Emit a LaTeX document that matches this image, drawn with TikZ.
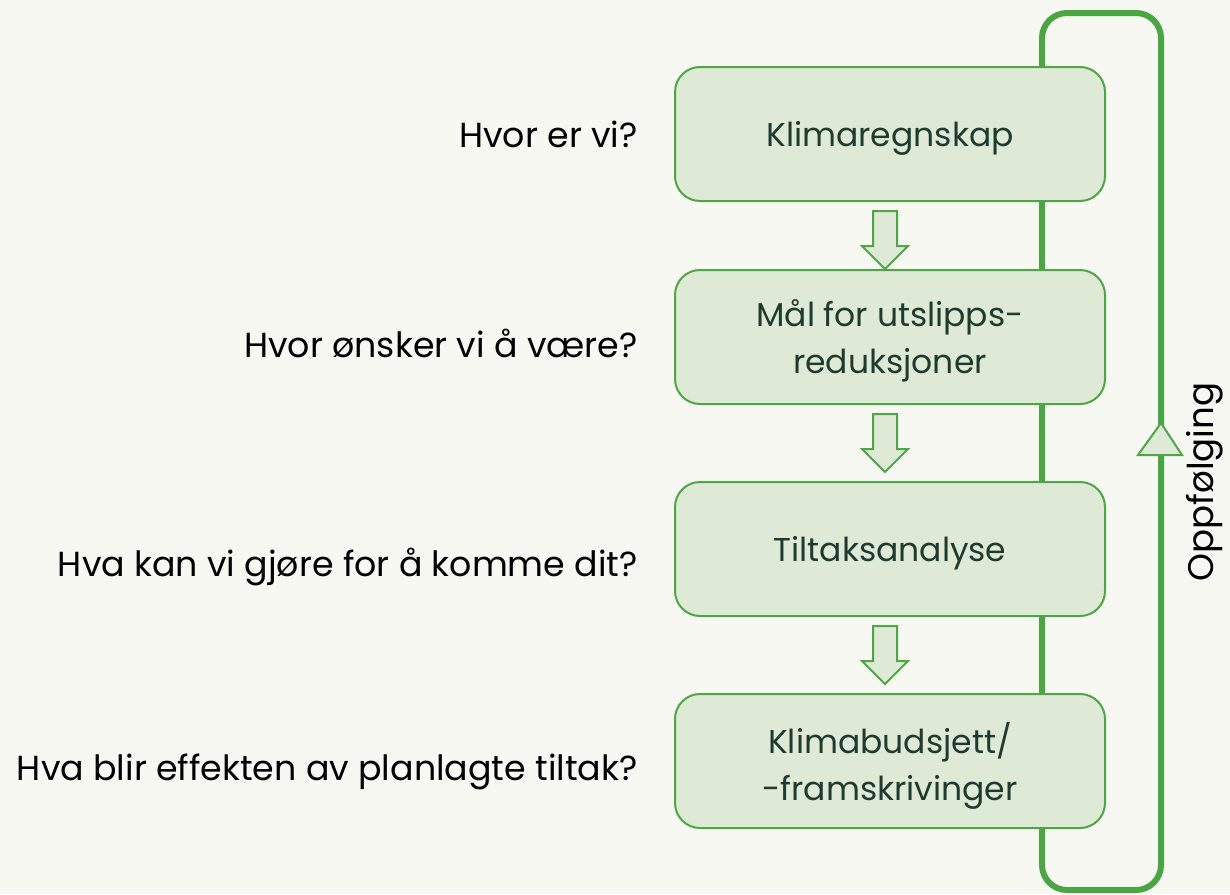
\documentclass[tikz,border=0pt]{standalone}
\usepackage{fontspec}
\setmainfont{Poppins}
\usetikzlibrary{shapes.arrows}
\definecolor{bgpaper}{HTML}{F7F8F2}
\definecolor{boxfill}{HTML}{DFEAD6}
\definecolor{boxline}{HTML}{4EA646}
\definecolor{boxtext}{HTML}{1F3B30}
\definecolor{loopgreen}{HTML}{4BA544}
\begin{document}
\begin{tikzpicture}[x=0.5pt,y=-0.5pt,
  stagebox/.style={draw=boxline, line width=1pt, fill=boxfill, rounded corners=12.5pt,
    minimum width=215pt, minimum height=67pt, align=center, text=boxtext, text depth=0pt,
    font=\fontsize{16.5}{23.5}\selectfont},
  question/.style={anchor=east, inner sep=0pt, font=\fontsize{17.4}{20}\selectfont},
  downarrow/.style={single arrow, draw=boxline, line width=1pt, fill=boxfill, rotate=-90,
    minimum height=29pt, minimum width=22pt, single arrow head extend=5.5pt,
    single arrow head indent=0pt, inner xsep=0pt, inner ysep=5.5pt}]
\useasboundingbox[fill=bgpaper] (0,0) rectangle (1230,894);
% feedback loop behind the boxes
\draw[loopgreen, line width=3pt, rounded corners=12.5pt] (1042,13) rectangle (1161,890);
\draw[boxline, line width=1pt, fill=boxfill] (1138,455) -- (1161,423) -- (1182,455) -- cycle;
\node[rotate=90, font=\fontsize{17.8}{20}\selectfont] (fup) at (1205,482) {Oppfølging};
% stages
\node[stagebox] (stg0) at (890,134) {Klimaregnskap};
\node[stagebox] (stg1) at (890,337) {Mål for utslipps-\\reduksjoner};
\node[stagebox] (stg2) at (890,549) {Tiltaksanalyse};
\node[stagebox] (stg3) at (890,761) {Klimabudsjett/\\-framskrivinger};
\node[downarrow] (arr0) at (885,234) {};
\node[downarrow] (arr1) at (885,437) {};
\node[downarrow] (arr2) at (885,649) {};
% questions
\node[question] (q0) at (638,134) {Hvor er vi?};
\node[question] (q1) at (638,343) {Hvor ønsker vi å være?};
\node[question] (q2) at (638,567) {Hva kan vi gjøre for å komme dit?};
\node[question] (q3) at (638,772) {Hva blir effekten av planlagte tiltak?};
\end{tikzpicture}
\end{document}
